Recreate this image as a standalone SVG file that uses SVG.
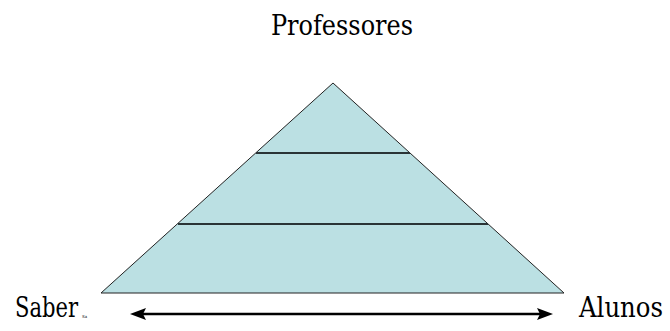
<svg xmlns="http://www.w3.org/2000/svg" width="670" height="331" viewBox="0 0 670 331">
<defs>
<style>
.t{font-family:'DejaVu Serif',serif;font-size:27px;fill:#000}
.lvl{stroke:#2a3436;stroke-width:2;fill:none}
.ah{fill:#000}
</style>
</defs>
<rect width="670" height="331" fill="#fff"/>
<g id="pyramid">
<polygon points="333,83 564,293 101,293" fill="#bbe0e3" stroke="#222" stroke-width="1"/>
<line class="lvl" x1="256" y1="153" x2="410" y2="153"/>
<line class="lvl" x1="178" y1="224" x2="488" y2="224"/>
</g>
<g id="professores"><text class="t" x="271" y="35" textLength="142" lengthAdjust="spacingAndGlyphs">Professores</text></g>
<g id="saber"><text class="t" x="15" y="317" textLength="63" lengthAdjust="spacingAndGlyphs">Saber</text><text x="82" y="318" font-family="DejaVu Serif, serif" font-size="4">Sa</text></g>
<g id="alunos"><text class="t" x="579" y="317" textLength="84" lengthAdjust="spacingAndGlyphs">Alunos</text></g>
<g id="connectors">
<line x1="140" y1="314" x2="543" y2="314" stroke="#000" stroke-width="2.5"/>
<polygon class="ah" points="130,314 146,308 143,314 146,320"/>
<polygon class="ah" points="553,314 537,308 540,314 537,320"/>
</g>
</svg>
